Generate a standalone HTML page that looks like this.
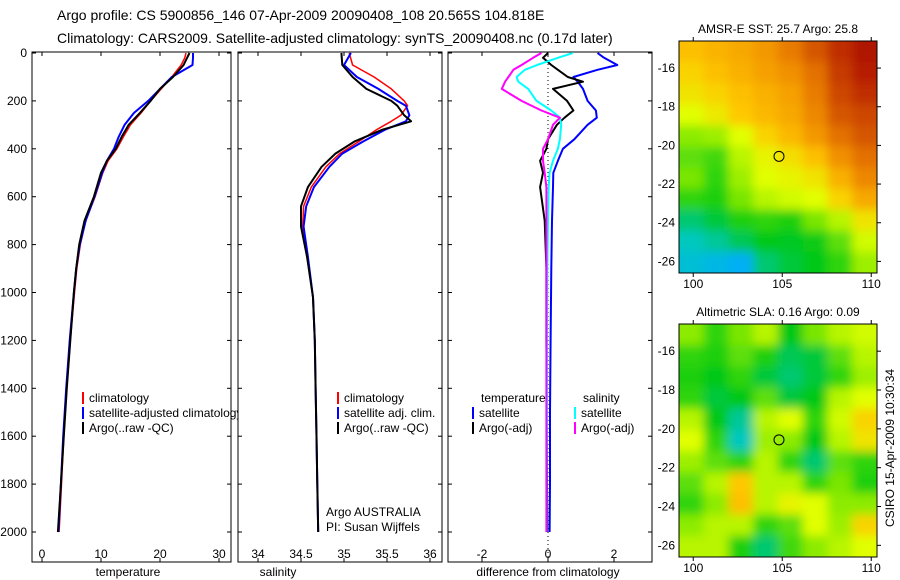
<!DOCTYPE html>
<html><head><meta charset="utf-8"><style>
body{margin:0;background:#fff;}
svg{display:block;font-family:"Liberation Sans",sans-serif;}
</style></head><body>
<svg id="c" width="900" height="580" xmlns="http://www.w3.org/2000/svg">
<rect width="900" height="580" fill="#fff"/>
<text x="57" y="20" font-size="14">Argo profile: CS 5900856_146 07-Apr-2009 20090408_108 20.565S 104.818E</text>
<text x="57" y="43" font-size="14">Climatology: CARS2009. Satellite-adjusted climatology: synTS_20090408.nc (0.17d later)</text>
</svg>
<script>
// ---- data ----
const depths=[0,20,50,100,150,200,250,300,350,400,450,500,600,700,800,900,1000,1200,1400,1600,1800,2000];
const tempClim=[24.4,24.2,23.6,22.0,20.2,18.4,16.8,15.0,13.8,12.7,11.2,10.3,9.0,7.4,6.5,5.9,5.5,4.8,4.2,3.7,3.3,2.9];
const tempSat=[25.6,25.6,25.5,22.0,20.0,18.0,15.6,14.0,13.0,12.2,11.0,10.2,8.9,7.4,6.4,5.8,5.4,4.7,4.1,3.6,3.2,2.8];
const tempArgo=[25.0,24.6,24.0,22.2,20.0,18.4,16.6,14.7,13.5,12.5,11.0,10.0,8.8,7.2,6.3,5.8,5.4,4.8,4.2,3.7,3.2,2.7];
const salDepths=[0,50,100,150,200,220,260,285,320,370,420,475,560,640,725,850,1020,1200,1400,1600,1800,2000];
const salClim=[35.06,35.10,35.35,35.55,35.70,35.74,35.66,35.55,35.38,35.17,34.95,34.79,34.62,34.53,34.52,34.58,34.64,34.66,34.67,34.68,34.69,34.70];
const salSat=[35.08,35.00,35.15,35.40,35.62,35.72,35.76,35.72,35.48,35.22,34.98,34.83,34.65,34.56,34.53,34.58,34.64,34.66,34.67,34.68,34.69,34.70];
const salArgo=[34.97,34.98,35.10,35.26,35.55,35.62,35.70,35.78,35.45,35.12,34.90,34.74,34.58,34.50,34.50,34.57,34.64,34.66,34.67,34.68,34.69,34.70];
const diffDepths=[0,20,50,70,100,120,150,200,240,270,300,360,400,450,500,560,700,900,1200,1500,1800,2000];
const diffTSat=[1.5,1.7,2.1,1.5,0.77,0.9,1.06,1.2,1.45,1.48,1.2,0.8,0.45,0.3,0.16,0.15,0.12,0.1,0.08,0.06,0.06,0.05];
const diffTArgo=[0.0,-0.15,0.1,0.3,0.6,1.06,0.15,0.58,0.77,0.5,0.27,0.0,-0.05,-0.24,-0.15,-0.24,-0.1,-0.05,-0.05,-0.03,-0.03,-0.02];
const diffSSat=[0.75,0.3,-0.33,-0.7,-0.95,-0.9,-0.6,-0.35,0.1,0.36,0.4,0.36,0.3,0.15,0.05,0.02,0.0,-0.02,-0.03,-0.03,-0.04,-0.04];
const diffSArgo=[-0.2,-0.45,-0.8,-1.05,-1.2,-1.3,-1.4,-0.8,-0.2,0.36,0.15,0.0,-0.15,-0.15,-0.1,-0.05,-0.05,-0.05,-0.05,-0.05,-0.05,-0.05];
const depthTicks=[0,200,400,600,800,1000,1200,1400,1600,1800,2000];
const tempTicks=[0,10,20,30];
const salTicks=[34,34.5,35,35.5,36];
const diffTicks=[-2,0,2];
const lonTicks=[100,105,110];
const latTicks=[-16,-18,-20,-22,-24,-26];
const sstGrid=[
[.62,.65,.68,.72,.78,.85,.92,.97],
[.58,.62,.66,.70,.74,.80,.90,.95],
[.55,.58,.62,.66,.70,.78,.88,.92],
[.50,.54,.60,.64,.68,.76,.85,.88],
[.40,.42,.50,.58,.64,.72,.80,.85],
[.35,.32,.45,.52,.56,.62,.74,.80],
[.38,.30,.42,.50,.52,.55,.66,.76],
[.30,.28,.38,.45,.48,.50,.58,.68],
[.18,.22,.28,.30,.28,.38,.45,.55],
[.12,.15,.20,.25,.24,.26,.35,.48],
[.08,.05,.02,.18,.22,.25,.30,.42]];
const slaGrid=[
[.40,.30,.38,.45,.25,.38,.45,.48],
[.30,.28,.35,.28,.20,.22,.35,.45],
[.28,.25,.30,.22,.18,.22,.30,.42],
[.30,.22,.25,.35,.22,.25,.45,.50],
[.45,.25,.15,.45,.50,.30,.48,.58],
[.50,.30,.12,.42,.40,.25,.45,.55],
[.42,.35,.30,.45,.30,.18,.35,.30],
[.35,.45,.60,.45,.45,.30,.38,.28],
[.30,.40,.62,.45,.52,.50,.40,.40],
[.40,.45,.45,.30,.35,.50,.42,.58],
[.45,.45,.28,.18,.32,.40,.45,.50]];
const floatLon=104.818, floatLat=-20.565;

const NS="http://www.w3.org/2000/svg";
const svg=document.getElementById('c');
function mk(tag,attrs,parent){const e=document.createElementNS(NS,tag);for(const k in attrs)e.setAttribute(k,attrs[k]);(parent||svg).appendChild(e);return e;}
function txt(x,y,s,size,anchor,parent){const t=mk('text',{x:x,y:y,'font-size':size,'text-anchor':anchor||'start'},parent);t.textContent=s;return t;}

const TOP=52,BOT=562,Z0=53,ZS=0.2395;
const yz=z=>Z0+z*ZS;
const panels=[
 {name:'temperature',l:32,r:231,x0:42,sc:5.9,v0:0,ticks:tempTicks,label:'temperature',lx:128},
 {name:'salinity',l:238,r:442,x0:258,sc:86,v0:34,ticks:salTicks,label:'salinity',lx:278},
 {name:'difference',l:448,r:652,x0:548,sc:33,v0:0,ticks:diffTicks,label:'difference from climatology',lx:548}];
panels.forEach((p,i)=>{
  p.x=v=>p.x0+(v-p.v0)*p.sc;
  const g=mk('g',{});
  
  
  mk('rect',{x:p.l,y:TOP,width:p.r-p.l,height:BOT-TOP,fill:'none',stroke:'#000','stroke-width':1},g);
  p.ticks.forEach(t=>{const x=p.x(t);
    mk('line',{x1:x,x2:x,y1:TOP,y2:TOP+4,stroke:'#000'},g);
    mk('line',{x1:x,x2:x,y1:BOT,y2:BOT-4,stroke:'#000'},g);
    const tl=txt(x,558,String(t),12,'middle',g);
    
    });
  depthTicks.forEach(d=>{const y=yz(d);
    mk('line',{x1:p.l,x2:p.l+4,y1:y,y2:y,stroke:'#000'},g);
    mk('line',{x1:p.r,x2:p.r-4,y1:y,y2:y,stroke:'#000'},g);
    if(i===0){const tl=txt(27,y+4,String(d),12,'end',g);
      
      }});
  const xl=txt(p.lx,576,p.label,12,'middle',g);
  
  
});

function line(p,zs,vs,color,w,name){
  const pts=zs.map((z,k)=>p.x(vs[k]).toFixed(1)+','+yz(z).toFixed(1)).join(' ');
  const e=mk('polyline',{points:pts,fill:'none',stroke:color,'stroke-width':w,'stroke-linejoin':'round'});
  
  
}
const [P1,P2,P3]=panels;
line(P1,depths,tempClim,'#f00',1.5,'temp-climatology-line');
line(P1,depths,tempSat,'#00f',2,'temp-satellite-line');
line(P1,depths,tempArgo,'#000',2,'temp-argo-line');
line(P2,salDepths,salClim,'#f00',1.5,'sal-climatology-line');
line(P2,salDepths,salSat,'#00f',2,'sal-satellite-line');
line(P2,salDepths,salArgo,'#000',2,'sal-argo-line');
const zl=mk('line',{x1:P3.x(0),x2:P3.x(0),y1:TOP,y2:BOT,stroke:'#000','stroke-dasharray':'1,3'});


line(P3,diffDepths,diffTSat,'#00f',2,'diff-temp-satellite-line');
line(P3,diffDepths,diffTArgo,'#000',2,'diff-temp-argo-line');
line(P3,diffDepths,diffSSat,'#0ff',2,'diff-sal-satellite-line');
line(P3,diffDepths,diffSArgo,'#f0f',2,'diff-sal-argo-line');

function legend(x,y,color,label){
  const g=mk('g',{});
  
  
  if(color)mk('line',{x1:x,x2:x,y1:y-10,y2:y+2,stroke:color,'stroke-width':2},g);
  txt(x+6,y,label,12,'start',g);
}
legend(83,402,'#f00','climatology');
legend(83,417,'#00f','satellite-adjusted climatology');
legend(83,432,'#000','Argo(..raw -QC)');
legend(338,402,'#f00','climatology');
legend(338,417,'#00f','satellite adj. clim.');
legend(338,432,'#000','Argo(..raw -QC)');
legend(475,402,null,'temperature');
legend(577,402,null,'salinity');
legend(473,417,'#00f','satellite');
legend(575,417,'#0ff','satellite');
legend(473,432,'#000','Argo(-adj)');
legend(575,432,'#f0f','Argo(-adj)');
const t1=txt(326,516,'Argo AUSTRALIA',12);
const t2=txt(326,531,'PI: Susan Wijffels',12);
mk('rect',{x:238.5,y:405,width:6,height:16,fill:'#fff'});
mk('line',{x1:238,x2:238,y1:400,y2:425,stroke:'#000'});

function cmap(v){
  const stops=[[0,[0,170,255]],[0.12,[0,200,190]],[0.25,[0,200,20]],[0.4,[140,235,0]],[0.5,[225,255,0]],[0.6,[255,200,0]],[0.75,[240,140,0]],[0.88,[205,70,0]],[1,[165,0,0]]];
  for(let i=1;i<stops.length;i++){if(v<=stops[i][0]){const a=stops[i-1],b=stops[i];const f=(v-a[0])/(b[0]-a[0]);
    return 'rgb('+a[1].map((c,k)=>Math.round(c+(b[1][k]-c)*f)).join(',')+')';}}
  return 'rgb(165,0,0)';
}
let mapId=0;
function map(top,bot,grid,title,name){
  const L=679,R=877;
  const lonX=lon=>L+(lon-99.2)*17.8;
  const latY=lat=>top+(-14.6-lat)*((bot-top)/12);
  const g=mk('g',{});
  
  
  const id='m'+(mapId++);
  const defs=mk('defs',{},g);
  const cp=mk('clipPath',{id:'cp'+id},defs);
  mk('rect',{x:L,y:top,width:R-L,height:bot-top},cp);
  const f=mk('filter',{id:'f'+id,x:'-10%',y:'-10%',width:'120%',height:'120%'},defs);
  mk('feGaussianBlur',{stdDeviation:5},f);
  const gc=mk('g',{'clip-path':'url(#cp'+id+')'},g);
  const gb=mk('g',{filter:'url(#f'+id+')'},gc);
  const rows=grid.length,cols=grid[0].length;
  const cw=(R-L)/cols,ch=(bot-top)/rows;
  for(let r=-1;r<=rows;r++)for(let c=-1;c<=cols;c++){
    const rr=Math.min(rows-1,Math.max(0,r)),cc=Math.min(cols-1,Math.max(0,c));
    const cell=mk('rect',{x:L+c*cw,y:top+r*ch,width:cw+0.5,height:ch+0.5,fill:cmap(grid[rr][cc])},gb);
    
    
  }
  mk('rect',{x:L,y:top,width:R-L,height:bot-top,fill:'none',stroke:'#000'},g);
  lonTicks.forEach(l=>{const x=lonX(l);
    mk('line',{x1:x,x2:x,y1:top,y2:top-4,stroke:'#000'},g);
    mk('line',{x1:x,x2:x,y1:bot,y2:bot+4,stroke:'#000'},g);
    txt(x,bot+15,String(l),12,'middle',g);});
  latTicks.forEach(l=>{const y=latY(l);
    mk('line',{x1:R,x2:R+4,y1:y,y2:y,stroke:'#000'},g);
    txt(L-4,y+4,String(l),12,'end',g);});
  const circ=mk('circle',{cx:lonX(floatLon),cy:latY(floatLat),r:5,fill:'none',stroke:'#000','stroke-width':1},g);
  
  
  const tt=txt((L+R)/2,top-8,title,12,'middle',g);
  
  
}
map(41,273,sstGrid,'AMSR-E SST: 25.7 Argo: 25.8','sst-map');
map(324,557,slaGrid,'Altimetric SLA: 0.16 Argo: 0.09','sla-map');
const stamp=txt(0,0,'CSIRO 15-Apr-2009 10:30:34',12,'middle');
stamp.setAttribute('transform','translate(894,448) rotate(-90)');


</script>
</body></html>
